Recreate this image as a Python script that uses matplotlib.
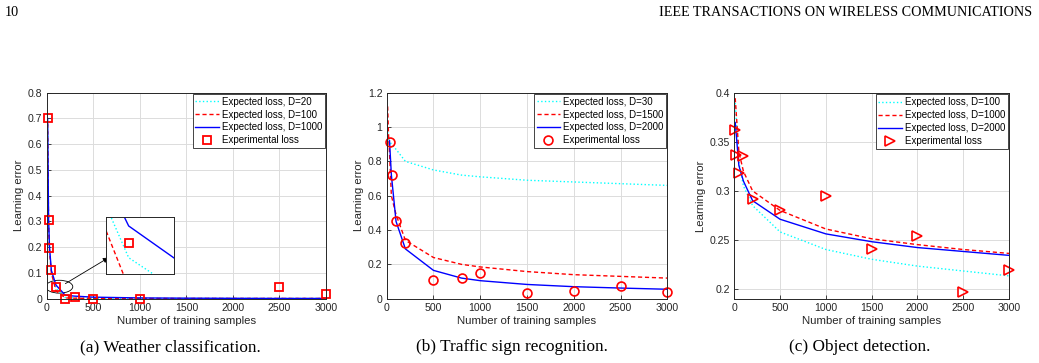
import matplotlib
matplotlib.use('Agg')
import matplotlib.pyplot as plt
from matplotlib.patches import Ellipse
import numpy as np

plt.rcParams['font.family'] = ['Liberation Sans', 'DejaVu Sans']

# (a) weather classification
xa_line = [10, 20, 30, 50, 100, 200, 300, 500, 1000, 1500, 2000, 2500, 3000]
a_d20 = [0.69, 0.30, 0.19, 0.105, 0.041, 0.004, 0.003, 0.002, 0.001, 0.001, 0.001, 0.001, 0.001]
a_d100 = [0.68, 0.29, 0.185, 0.10, 0.030, 0.003, 0.002, 0.001, 0.001, 0.001, 0.001, 0.001, 0.001]
a_d1000 = [0.70, 0.31, 0.20, 0.11, 0.0527, 0.0134, 0.010, 0.006, 0.003, 0.002, 0.0015, 0.001, 0.001]
xa_exp = [10, 20, 30, 50, 100, 200, 300, 500, 1000, 2500, 3000]
a_exp = [0.703, 0.305, 0.197, 0.11, 0.0466, 0.0, 0.008, 0.0, 0.0, 0.045, 0.02]

# (b) traffic sign recognition
xb_line = [10, 20, 30, 50, 100, 200, 500, 800, 1000, 1500, 2000, 2500, 3000]
b_d30 = [0.97, 0.94, 0.92, 0.90, 0.87, 0.80, 0.75, 0.72, 0.71, 0.69, 0.68, 0.67, 0.66]
b_d1500 = [1.12, 0.95, 0.85, 0.60, 0.49, 0.34, 0.24, 0.20, 0.185, 0.158, 0.14, 0.13, 0.12]
xb_blue = [30, 50, 100, 200, 500, 800, 1000, 1500, 2000, 2500, 3000]
b_d2000 = [0.92, 0.72, 0.45, 0.29, 0.165, 0.12, 0.105, 0.083, 0.07, 0.062, 0.055]
xb_exp = [40, 55, 100, 200, 500, 800, 1000, 1500, 2000, 2500, 3000]
b_exp = [0.915, 0.72, 0.455, 0.325, 0.11, 0.12, 0.148, 0.035, 0.045, 0.075, 0.038]

# (c) object detection
xc_line = [10, 50, 100, 200, 500, 1000, 1500, 2000, 2500, 3000]
c_d100 = [0.39, 0.33, 0.305, 0.285, 0.258, 0.24, 0.23, 0.223, 0.218, 0.213]
c_d1000 = [0.395, 0.34, 0.32, 0.30, 0.28, 0.261, 0.251, 0.245, 0.24, 0.236]
c_d2000 = [0.37, 0.326, 0.31, 0.29, 0.271, 0.256, 0.248, 0.242, 0.238, 0.234]
xc_exp = [10, 20, 50, 100, 200, 500, 1000, 1500, 2000, 2500, 3000]
c_exp = [0.362, 0.337, 0.318, 0.336, 0.292, 0.28, 0.295, 0.241, 0.254, 0.196, 0.219]

W, H = 1039, 363
fig = plt.figure(figsize=(W / 100, H / 100), dpi=100)
DASH = (3, 2)


def px_axes(l, r, t, b):
    return fig.add_axes([l / W, (H - b) / H, (r - l) / W, (b - t) / H])


def style(ax, ylim, yticks):
    ax.set_xlim(0, 3000)
    ax.set_ylim(*ylim)
    ax.set_xticks(np.arange(0, 3001, 500))
    ax.set_yticks(yticks)
    ax.grid(True, color='#dcdcdc', linewidth=0.7)
    ax.set_axisbelow(True)
    for s in ax.spines.values():
        s.set_color('#262626')
        s.set_linewidth(0.7)
    ax.tick_params(direction='in', length=3, width=0.6, labelsize=7.6,
                   colors='#262626', pad=3)
    ax.set_xlabel('Number of training samples', fontsize=8.2, labelpad=2, color='#262626')
    ax.set_ylabel('Learning error', fontsize=8.2, labelpad=3, color='#262626')


def legend(ax):
    leg = ax.legend(loc='upper right', fontsize=7.0, handlelength=2.4,
                    borderpad=0.3, labelspacing=0.3, handletextpad=0.3,
                    fancybox=False, framealpha=1, borderaxespad=0.1)
    leg.get_frame().set_edgecolor('#262626')
    leg.get_frame().set_linewidth(0.6)


ax1 = px_axes(46.7, 326, 92.7, 298.7)
ax1.plot(xa_line, a_d20, ':', color='cyan', lw=1.0, label='Expected loss, D=20')
ax1.plot(xa_line, a_d100, '--', color='red', lw=1.0, dashes=DASH, label='Expected loss, D=100')
ax1.plot(xa_line, a_d1000, '-', color='blue', lw=1.0, label='Expected loss, D=1000')
ax1.plot(xa_exp, a_exp, 's', color='red', mfc='none', ms=5.5, mew=1.3, ls='none',
         clip_on=False, label='Experimental loss')
style(ax1, (0, 0.8), np.arange(0, 0.81, 0.1))
ax1.set_yticklabels(['0', '0.1', '0.2', '0.3', '0.4', '0.5', '0.6', '0.7', '0.8'])
legend(ax1)
ax1.add_patch(Ellipse((135, 0.0466), 290, 0.05, fill=False, ec='black', lw=0.6))
ax1.annotate('', xy=(691, 0.165), xytext=(175, 0.053),
             arrowprops=dict(arrowstyle='-|>', color='black', lw=0.6, mutation_scale=8))

ins = px_axes(106, 174, 217, 274)
ins.plot(xa_line, a_d20, ':', color='cyan', lw=1.0)
ins.plot(xa_line, a_d100, '--', color='red', lw=1.0, dashes=DASH)
ins.plot(xa_line, a_d1000, '-', color='blue', lw=1.0)
ins.plot(xa_exp, a_exp, 's', color='red', mfc='none', ms=5.5, mew=1.3, ls='none')
ins.set_xlim(85, 130)
ins.set_ylim(0.035, 0.056)
ins.set_xticks([])
ins.set_yticks([])
for s in ins.spines.values():
    s.set_color('#262626')
    s.set_linewidth(0.7)

ax2 = px_axes(386.7, 667.3, 92.7, 298.7)
ax2.plot(xb_line, b_d30, ':', color='cyan', lw=1.0, label='Expected loss, D=30')
ax2.plot(xb_line, b_d1500, '--', color='red', lw=1.0, dashes=DASH, label='Expected loss, D=1500')
ax2.plot(xb_blue, b_d2000, '-', color='blue', lw=1.0, label='Expected loss, D=2000')
ax2.plot(xb_exp, b_exp, 'o', color='red', mfc='none', ms=6.4, mew=1.2, ls='none',
         clip_on=False, label='Experimental loss')
style(ax2, (0, 1.2), np.arange(0, 1.21, 0.2))
ax2.set_yticklabels(['0', '0.2', '0.4', '0.6', '0.8', '1', '1.2'])
legend(ax2)

ax3 = px_axes(734.3, 1009, 93.3, 299.3)
ax3.plot(xc_line, c_d100, ':', color='cyan', lw=1.0, label='Expected loss, D=100')
ax3.plot(xc_line, c_d1000, '--', color='red', lw=1.0, dashes=DASH, label='Expected loss, D=1000')
ax3.plot(xc_line, c_d2000, '-', color='blue', lw=1.0, label='Expected loss, D=2000')
ax3.plot(xc_exp, c_exp, '>', color='red', mfc='none', ms=7.2, mew=1.2, ls='none',
         clip_on=False, label='Experimental loss')
style(ax3, (0.189, 0.4), [0.2, 0.25, 0.3, 0.35, 0.4])
ax3.set_yticklabels(['0.2', '0.25', '0.3', '0.35', '0.4'])
legend(ax3)

serif = ['Liberation Serif', 'DejaVu Serif']
fig.text(5 / W, 1 - 12 / H, '10', family=serif, fontsize=10.2, va='center', ha='left')
fig.text(1032 / W, 1 - 12 / H, 'IEEE TRANSACTIONS ON WIRELESS COMMUNICATIONS',
         family=serif, fontsize=10.2, va='center', ha='right')
captions = ['(a) Weather classification.', '(b) Traffic sign recognition.',
            '(c) Object detection.']
for cx, cap in zip([170, 512, 860], captions):
    fig.text(cx / W, 1 - 347 / H, cap, family=serif, fontsize=12.4, va='center', ha='center')

fig.savefig('out.png', dpi=100)
